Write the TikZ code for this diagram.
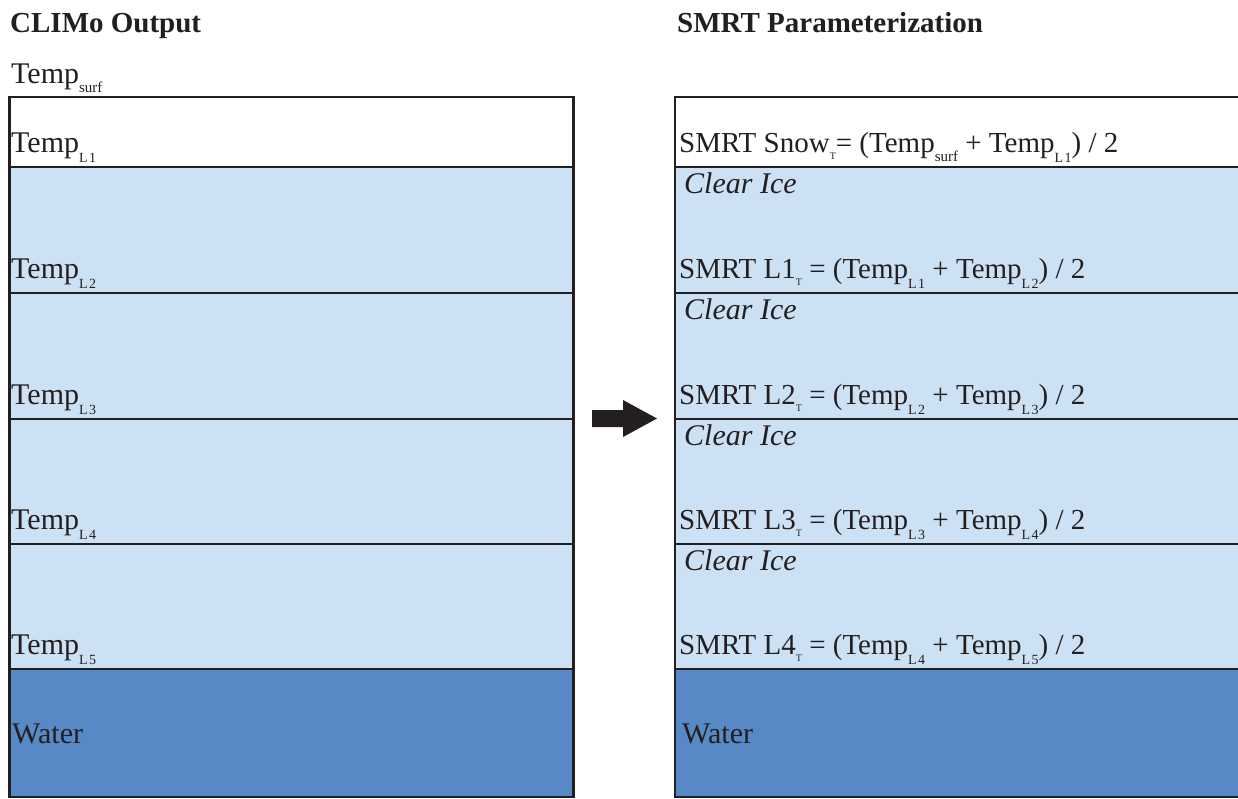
\documentclass[tikz,border=0pt]{standalone}
\usepackage{fontspec}
\setmainfont{Liberation Serif}
\definecolor{ice}{RGB}{204,226,244}
\definecolor{water}{RGB}{86,137,198}
\definecolor{ink}{RGB}{35,31,32}
\newcommand\lsub[1]{\raisebox{-9pt}{\fontsize{15}{15}\selectfont #1}}
\newcommand\nsub[1]{\raisebox{-10pt}{\fontsize{14}{14}\selectfont L\kern1.5pt #1}}
\newcommand\tsub[1]{\raisebox{-7pt}{\fontsize{10}{10}\selectfont #1}}
\begin{document}
\begin{tikzpicture}[x=1pt,y=-1pt,
  layer/.style={draw=ink, line width=2.6pt, anchor=north west, inner sep=0pt, outer sep=0pt},
  lbl/.style={anchor=base west, inner sep=0pt, font=\fontsize{30}{30}\selectfont, text=ink},
  frm/.style={anchor=base west, inner sep=0pt, font=\fontsize{29}{29}\selectfont, text=ink},
  ital/.style={lbl, font=\fontsize{30}{30}\selectfont\itshape},
  ttl/.style={anchor=base west, inner sep=0pt, font=\fontsize{29}{29}\selectfont\bfseries, text=ink}]
\useasboundingbox (0,0) rectangle (1238,798);
\clip (0,0) rectangle (1238,798);
\fill[white] (0,0) rectangle (1238,798);
% left column
\node[layer, fill=white, minimum width=564, minimum height=70]  (l0) at (9.5,97)  {};
\node[layer, fill=ice,   minimum width=564, minimum height=126] (l1) at (9.5,167) {};
\node[layer, fill=ice,   minimum width=564, minimum height=126] (l2) at (9.5,293) {};
\node[layer, fill=ice,   minimum width=564, minimum height=125] (l3) at (9.5,419) {};
\node[layer, fill=ice,   minimum width=564, minimum height=125] (l4) at (9.5,544) {};
\node[layer, fill=water, minimum width=564, minimum height=128] (l5) at (9.5,669) {};
% right column
\node[layer, fill=white, minimum width=580, minimum height=70]  (r0) at (675,97)  {};
\node[layer, fill=ice,   minimum width=580, minimum height=126] (r1) at (675,167) {};
\node[layer, fill=ice,   minimum width=580, minimum height=126] (r2) at (675,293) {};
\node[layer, fill=ice,   minimum width=580, minimum height=125] (r3) at (675,419) {};
\node[layer, fill=ice,   minimum width=580, minimum height=125] (r4) at (675,544) {};
\node[layer, fill=water, minimum width=580, minimum height=128] (r5) at (675,669) {};
% titles
\node[ttl] (t1) at (10,32) {CLIMo Output};
\node[ttl] (t2) at (677,32) {SMRT Parameterization};
\node[lbl] (ts) at (11,83) {Temp\lsub{surf}};
% left labels
\node[lbl] (tl1) at (11,152) {Temp\nsub{1}};
\node[lbl] (tl2) at (11,278) {Temp\nsub{2}};
\node[lbl] (tl3) at (11,404) {Temp\nsub{3}};
\node[lbl] (tl4) at (11,529) {Temp\nsub{4}};
\node[lbl] (tl5) at (11,654) {Temp\nsub{5}};
\node[lbl] (lw) at (12,743) {Water};
% right labels
\node[frm] (s0) at (679,152) {SMRT Snow\tsub{T}= (Temp\lsub{surf} + Temp\nsub{1}) / 2};
\node[ital] (c1) at (684,193) {Clear Ice};
\node[frm] (s1) at (679,278) {SMRT L1\tsub{T} = (Temp\nsub{1} + Temp\nsub{2}) / 2};
\node[ital] (c2) at (684,319) {Clear Ice};
\node[frm] (s2) at (679,404) {SMRT L2\tsub{T} = (Temp\nsub{2} + Temp\nsub{3}) / 2};
\node[ital] (c3) at (684,445) {Clear Ice};
\node[frm] (s3) at (679,529) {SMRT L3\tsub{T} = (Temp\nsub{3} + Temp\nsub{4}) / 2};
\node[ital] (c4) at (684,570) {Clear Ice};
\node[frm] (s4) at (679,654) {SMRT L4\tsub{T} = (Temp\nsub{4} + Temp\nsub{5}) / 2};
\node[lbl] (rw) at (682,743) {Water};
% arrow
\fill[ink] (592,410) -- (623,410) -- (623,400) -- (657,418.5) -- (623,437) -- (623,427) -- (592,427) -- cycle;
\end{tikzpicture}
\end{document}
